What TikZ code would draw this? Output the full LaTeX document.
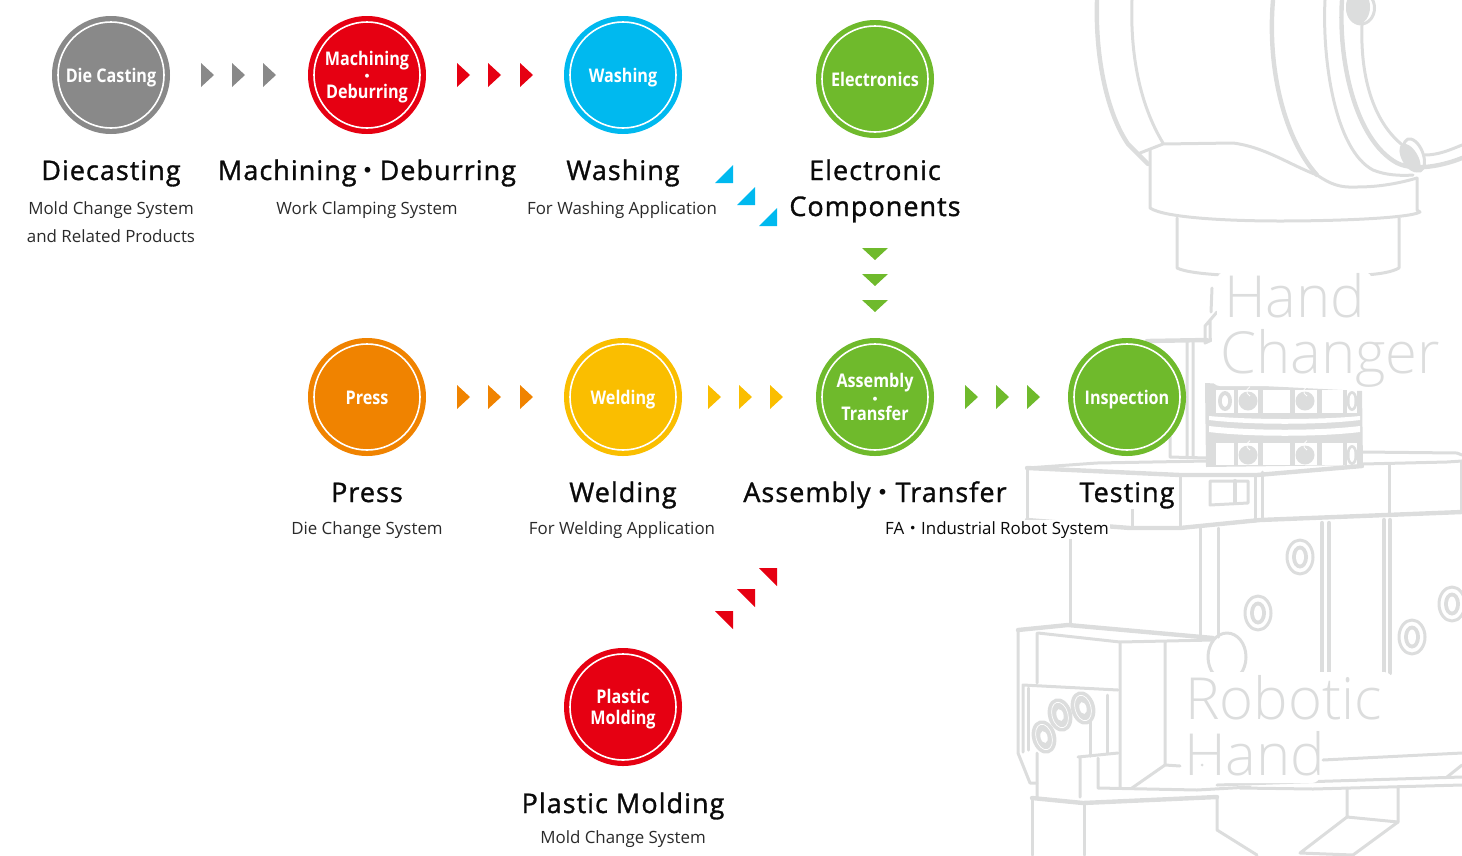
\documentclass[tikz,border=0pt]{standalone}
\usepackage{fontspec}
\setmainfont{Open Sans}
\newfontfamily\cjk{Noto Sans CJK JP}
\newfontfamily\ttlf[LetterSpace=3.8,FakeBold=1.2]{Open Sans}
\newfontfamily\subf{Open Sans}
\newfontfamily\lblf[BoldFont={Open Sans Bold},FakeStretch=0.86]{Open Sans}
\newfontfamily\ghostf[UprightFont={* Light}]{Open Sans}
\definecolor{cgray}{HTML}{898989}
\definecolor{cred}{HTML}{E60012}
\definecolor{cblue}{HTML}{00B9EF}
\definecolor{cgreen}{HTML}{6FBA2C}
\definecolor{corange}{HTML}{F08300}
\definecolor{cyellow}{HTML}{FABE00}
\definecolor{ghost}{HTML}{DCDDDD}
\definecolor{ink}{HTML}{0A0A0A}
\definecolor{subink}{HTML}{2A2A2A}
\newcommand{\tridot}{{\cjk ・}}
\newcommand{\rtri}[3]{\fill[#3] (#1,#2-12) -- (#1+13,#2) -- (#1,#2+12) -- cycle;}
\newcommand{\dtri}[3]{\fill[#3] (#1-13,#2) -- (#1+13,#2) -- (#1,#2+12) -- cycle;}
\newcommand{\btri}[2]{\fill[cblue] (#1,#2) -- (#1+18,#2) -- (#1+18,#2-18) -- cycle;}
\newcommand{\ttri}[2]{\fill[cred] (#1,#2) -- (#1+18,#2) -- (#1+18,#2+18) -- cycle;}
\newcommand{\smalldot}{{\fontsize{14}{16.3}\selectfont\tridot}}
\tikzset{
  x=1pt,y=-1pt,
  disc/.style={circle,fill=#1,draw=none,minimum size=118pt,inner sep=0pt},
  lab/.style={text=white,align=center,inner sep=0pt,font=\lblf\bfseries\fontsize{18.8}{16.3}\selectfont},
  labone/.style={lab,text height=14pt,text depth=4pt},
  ring/.style={draw=white,line width=1.6pt},
  ttl/.style={anchor=base,text=ink,font=\ttlf\fontsize{27}{36}\selectfont,align=center,inner sep=0pt},
  subt/.style={anchor=base,text=subink,font=\subf\fontsize{16.9}{28}\selectfont,align=center,inner sep=0pt},
  rb/.style={draw=ghost,line width=3pt,line join=round,line cap=round},
  rbt/.style={draw=ghost,line width=4.4pt,line join=round,line cap=round},
  gtxt/.style={text=ghost,font=\ghostf\fontsize{58}{58}\selectfont,anchor=base west,inner sep=0pt},
}
\begin{document}
\begin{tikzpicture}
\useasboundingbox (0,0) rectangle (1462,855);
% ---------- robot: upper arm
\draw[rbt] (1097,0) .. controls (1095,60) and (1108,115) .. (1128,144) -- (1148,164);
\draw[rb] (1132,0) .. controls (1130,55) and (1140,105) .. (1163,143);
\draw[rb] (1140,153) -- (1163,144) -- (1233,143) .. controls (1265,147) and (1290,165) .. (1317,175) .. controls (1330,184) and (1340,188) .. (1357,187) .. controls (1380,187) and (1400,183) .. (1417,178);
\draw[rb] (1150,150) -- (1150,208) .. controls (1165,218) and (1230,221) .. (1280,221) .. controls (1340,221) and (1410,218) .. (1420,212) -- (1417,210) -- (1417,178);
\draw[rb] (1177,218) -- (1177,268) .. controls (1185,272) and (1205,274) .. (1222,275);
\draw[rb] (1399,218) -- (1399,268) .. controls (1392,272) and (1380,274) .. (1365,275);
\draw[rb] (1222,275) -- (1365,275);
\draw[rbt] (1273,0) .. controls (1267,70) and (1285,140) .. (1317,175);
\draw[rb] (1325,0) .. controls (1322,60) and (1335,150) .. (1373,170) .. controls (1385,175) and (1400,176) .. (1413,175);
\draw[rbt] (1342,0) .. controls (1338,60) and (1355,140) .. (1397,163) .. controls (1415,172) and (1445,165) .. (1462,158);
\draw[rb] (1362,25) .. controls (1360,80) and (1375,125) .. (1405,147);
\draw[rb] (1425,155) .. controls (1438,155) and (1450,150) .. (1462,145);
\draw[rb] (1361,8) ellipse [x radius=13.5,y radius=16];
\fill[ghost] (1358,7) ellipse [x radius=12,y radius=17];
\draw[ghost,line width=3pt,rotate around={22:(1414,155)}] (1414,155) ellipse [x radius=9,y radius=17];
\fill[ghost,rotate around={30:(1410,158)}] (1410,158) ellipse [x radius=8,y radius=16];
% changer connection
\draw[rb] (1212,288) -- (1211,312) (1217,312) -- (1205,326) -- (1205,343) -- (1216,338) (1210,320) -- (1210,340);
\draw[rbt] (1147,341) -- (1207,340);
\draw[rb] (1187,340) -- (1187,458) (1193,340) -- (1193,458) (1170,430) -- (1170,457) -- (1207,458);
% ring
\fill[ghost] (1205,383) -- (1362,391) -- (1363,465) -- (1206,467) -- cycle;
\fill[white] (1209,416) .. controls (1250,420) and (1320,420) .. (1360,416) -- (1360,420) .. controls (1320,425) and (1250,425) .. (1209,420) -- cycle;
\fill[white] (1209,426) .. controls (1250,431) and (1320,431) .. (1360,426) -- (1360,432) .. controls (1320,437) and (1250,437) .. (1209,432) -- cycle;
\foreach \a/\b in {1216/1234,1238/1258,1263/1290,1295/1317,1322/1343,1347/1357}{
  \fill[white] (\a,390) rectangle (\b,413);
  \fill[white] (\a,443) rectangle (\b,465);}
\fill[ghost] (1225,401) ellipse [x radius=7,y radius=10];
\fill[white] (1225,401) ellipse [x radius=3,y radius=6];
\fill[ghost] (1352,401) ellipse [x radius=5.5,y radius=10];
\fill[white] (1352,401) ellipse [x radius=2.5,y radius=7];
\fill[ghost] (1352,455) ellipse [x radius=5.5,y radius=10];
\fill[white] (1352,455) ellipse [x radius=2.5,y radius=7];
\foreach \ex/\ey in {1248/401,1305/401,1248/455,1305/455}{
  \fill[ghost] (\ex,\ey) circle (9.5);
  \draw[white,line width=.8pt] (\ex+2,\ey-5) arc (-70:70:-5);}
% block
\draw[rb] (1027,468) -- (1097,463) -- (1207,461);
\draw[rbt] (1027,468) -- (1180,475) -- (1257,475) -- (1362,466);
\draw[rb] (1362,452) -- (1457,453) -- (1462,455);
\draw[rb] (1363,464) -- (1447,462) -- (1462,461);
\draw[rbt] (1027,520) -- (1130,528) -- (1180,528) -- (1260,520) -- (1462,512);
\draw[rb] (1027,468) -- (1027,520) (1180,475) -- (1180,528) (1255,475) -- (1255,521) (1262,472) -- (1262,519) (1389,465) -- (1389,513) (1132,508) -- (1132,528) (1461,461) -- (1461,512);
\draw[rb] (1210,481) -- (1210,505) -- (1248,503) -- (1248,481) -- cycle;
\draw[rbt] (1235,481) -- (1235,503);
% body strips and bolts
\draw[rb] (1070,533) -- (1070,625) (1200,528) -- (1200,637) (1218,528) -- (1218,637);
\draw[rbt] (1322,523) -- (1322,673) (1329,523) -- (1329,673) (1384,520) -- (1384,673) (1390,520) -- (1390,673);
\foreach \ex/\ey in {1300/557,1258/613,1412/637,1452/604}{
  \draw[rb] (\ex,\ey) ellipse [x radius=13,y radius=17];
  \fill[ghost] (\ex,\ey) ellipse [x radius=8,y radius=11.5];
  \fill[white] (\ex,\ey) ellipse [x radius=4,y radius=7.5];}
% lower block
\draw[rbt] (1018,630) -- (1068,625) -- (1213,638);
\draw[rb] (1038,633) -- (1120,642) -- (1213,640);
\draw[rb] (1018,630) -- (1018,753) -- (1030,783) -- (1037,783);
\draw[rb] (1037,633) -- (1037,683) (1120,642) -- (1120,788) (1165,642) -- (1165,765) -- (1132,788) (1165,765) -- (1180,766);
\draw[rb] (1227,657) ellipse [x radius=19,y radius=24];
\fill[ghost] (1222,677) circle (3.5);
\draw[rb] (1023,752) -- (1023,685) -- (1118,690);
\draw[rb] (1028,688) -- (1028,750) (1107,695) -- (1107,753) (1090,720) -- (1090,756);
\foreach \ex/\ey in {1083/708,1060/715,1044/737}{
  \fill[ghost,rotate around={15:(\ex,\ey)}] (\ex,\ey) ellipse [x radius=12,y radius=17];
  \draw[white,line width=.7pt,rotate around={15:(\ex,\ey)}] (\ex,\ey) ellipse [x radius=8,y radius=13];
  \fill[white,rotate around={15:(\ex,\ey)}] (\ex,\ey) ellipse [x radius=3.5,y radius=6];}
\draw[rb] (1037,753) -- (1037,797) (1080,757) -- (1080,797) (1098,758) -- (1098,788) -- (1197,790) -- (1250,787);
\draw[rb] (1078,757) -- (1118,753);
\draw[rbt] (1032,798) -- (1083,803) -- (1217,797);
\draw[rb] (1032,798) -- (1032,855) (1084,803) -- (1084,855);
\draw[rb] (1217,797) -- (1217,830) -- (1257,855);
\draw[rb] (1323,760) -- (1462,753);
\draw[rb] (1217,785) -- (1300,782) -- (1462,777);
\draw[rb] (1240,788) -- (1313,789) -- (1462,785);
\draw[rb] (1347,788) -- (1347,817) -- (1398,822) -- (1398,788);
\draw[rb] (1347,817) -- (1300,853) -- (1353,855) -- (1398,822);
\draw[rb] (1447,777) -- (1462,765);
% ghost labels with white halos
\fill[white,rounded corners=8pt] (1217,272) rectangle (1372,322);
\fill[white,rounded corners=8pt] (1212,322) rectangle (1368,386);
\fill[white,rounded corners=8pt] (1183,672) rectangle (1392,730);
\fill[white,rounded corners=8pt] (1183,730) rectangle (1320,783);
\fill[ghost] (1202,765) circle (1.5);
\node[gtxt] (gh1) at (1224,317) {Hand};
\node[gtxt] (gh2) at (1220,373) {Changer};
\node[gtxt] (gr1) at (1185,719) {Robotic};
\node[gtxt] (gr2) at (1184,775) {Hand};
% ---------- triangles
\rtri{201}{75}{cgray}\rtri{232}{75}{cgray}\rtri{263}{75}{cgray}
\rtri{457}{75}{cred}\rtri{488}{75}{cred}\rtri{520}{75}{cred}
\rtri{457}{397}{corange}\rtri{488}{397}{corange}\rtri{520}{397}{corange}
\rtri{708}{397}{cyellow}\rtri{739}{397}{cyellow}\rtri{770}{397}{cyellow}
\rtri{965}{397}{cgreen}\rtri{996}{397}{cgreen}\rtri{1027}{397}{cgreen}
\dtri{875}{248}{cgreen}\dtri{875}{274}{cgreen}\dtri{875}{300}{cgreen}
\btri{715}{183}\btri{737}{205}\btri{759}{226}
\ttri{759}{568}\ttri{737}{589}\ttri{715}{611}
% ---------- discs
\node[disc=cgray] (die) at (111,75) {};
\node[disc=cred] (mach) at (367,75) {};
\node[disc=cblue] (wash) at (623,75) {};
\node[disc=cgreen] (elec) at (875,79) {};
\node[disc=corange] (press) at (367,397) {};
\node[disc=cyellow] (weld) at (623,397) {};
\node[disc=cgreen] (asm) at (875,397) {};
\node[disc=cgreen] (insp) at (1127,397) {};
\node[disc=cred] (plas) at (623,707) {};
\foreach \n in {die,mach,wash,elec,press,weld,asm,insp,plas}
  \draw[ring] (\n) circle (53);
\node[labone] (ldie) at ([yshift=-2pt]die) {Die Casting};
\node[lab] (lmach) at ([yshift=-2pt]mach) {Machining\\{\smalldot}\\Deburring};
\node[labone] (lwash) at ([yshift=-2pt]wash) {Washing};
\node[labone] (lelec) at ([yshift=-2.5pt]elec) {Electronics};
\node[labone] (lpress) at ([yshift=-2pt]press) {Press};
\node[labone] (lweld) at ([yshift=-2pt]weld) {Welding};
\node[lab] (lasm) at ([yshift=0pt]asm) {Assembly\\{\smalldot}\\Transfer};
\node[labone] (linsp) at ([yshift=-2pt]insp) {Inspection};
\node[lab] (lplas) at ([yshift=-2.5pt]plas) {Plastic\\[4.5pt]Molding};
% ---------- titles
\node[ttl] (t1) at (111,180) {Diecasting};
\node[ttl] (t2) at (367,180) {Machining\hspace{-2pt}\tridot\hspace{-2pt}Deburring};
\node[ttl] (t3) at (623,180) {Washing};
\node[ttl] (t4) at (875,180) {Electronic};
\node[ttl] (t4b) at (875,216) {Components};
\node[ttl] (t5) at (367,502) {Press};
\node[ttl] (t6) at (623,502) {Welding};
\node[ttl] (t7) at (875,502) {Assembly\hspace{-1pt}\tridot\hspace{-1pt}Transfer};
\node[ttl,fill=white,inner sep=1pt] (t8) at (1127,502) {Testing};
\node[ttl] (t9) at (623,813) {Plastic Molding};
% ---------- subtitles
\node[subt] (s1) at (111,214) {Mold Change System};
\node[subt] (s1b) at (111,242) {and Related Products};
\node[subt] (s2) at (367,214) {Work Clamping System};
\node[subt] (s3) at (622,214) {For Washing Application};
\node[subt] (s5) at (367,534) {Die Change System};
\node[subt] (s6) at (622,534) {For Welding Application};
\node[subt,text=ink,fill=white,inner sep=1pt] (s7) at (997,534) {FA\tridot Industrial Robot System};
\node[subt] (s9) at (623,843) {Mold Change System};
\end{tikzpicture}
\end{document}
